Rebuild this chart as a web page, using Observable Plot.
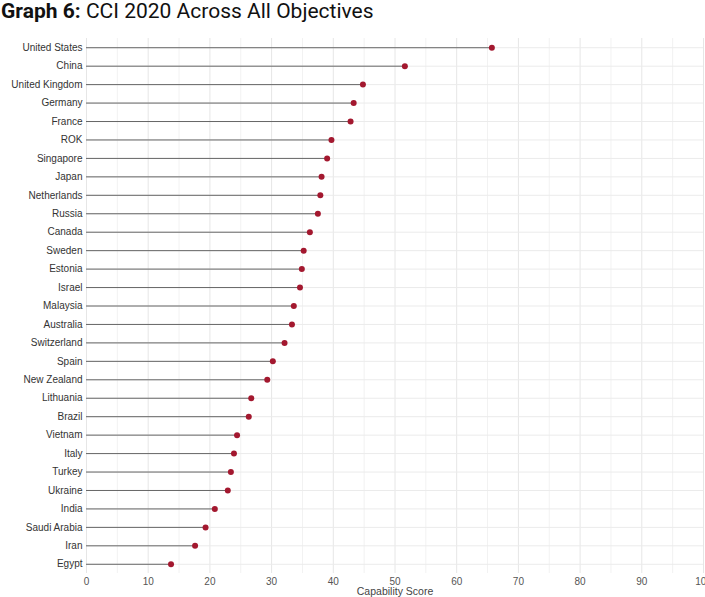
<!DOCTYPE html>
<html><head><meta charset="utf-8">
<script src="https://cdn.jsdelivr.net/npm/d3@7"></script>
<script src="https://cdn.jsdelivr.net/npm/@observablehq/plot@0.6"></script>
<style>
body{margin:0;background:#fff;}
#title{font-family:Roboto,sans-serif;font-size:21px;color:#111;height:30px;line-height:23px;padding-left:1px;white-space:nowrap;}
#title b{font-weight:700;}
#chart svg{display:block;}
</style></head><body>
<div id="title"><b>Graph 6:</b> CCI 2020 Across All Objectives</div>
<div id="chart"></div>
<script>
const countries = ["United States","China","United Kingdom","Germany","France","ROK","Singapore","Japan","Netherlands","Russia","Canada","Sweden","Estonia","Israel","Malaysia","Australia","Switzerland","Spain","New Zealand","Lithuania","Brazil","Vietnam","Italy","Turkey","Ukraine","India","Saudi Arabia","Iran","Egypt"];
const scores = [65.7,51.6,44.8,43.3,42.8,39.7,39.0,38.1,37.9,37.5,36.2,35.2,34.9,34.6,33.6,33.3,32.1,30.2,29.3,26.7,26.3,24.4,23.9,23.4,22.9,20.8,19.3,17.6,13.7];
const majorTicks = [0,10,20,30,40,50,60,70,80,90,100];
const minorTicks = [5,15,25,35,45,55,65,75,85,95];
const xTitle = ["Capability Score"];
const data = countries.map((c,i)=>({country:c, score:scores[i]}));

const chart = Plot.plot({
  width: 705,
  height: 567,
  marginLeft: 86,
  marginRight: 2,
  marginTop: 8,
  marginBottom: 24,
  style: {fontFamily: "'Liberation Sans', Arial, sans-serif", fontSize: "10px", color: "#444"},
  x: {domain: [0,100]},
  y: {type: "point", domain: countries, padding: 0.5, round: false},
  marks: [
    Plot.ruleX(minorTicks, {stroke: "#f2f2f2", strokeWidth: 1}),
    Plot.ruleX(majorTicks, {stroke: "#e6e6e6", strokeWidth: 1}),
    Plot.ruleY(countries, {stroke: "#ebebeb", strokeWidth: 1}),
    Plot.ruleY(data, {y: "country", x1: 0, x2: "score", stroke: "#666", strokeWidth: 1}),
    Plot.dot(data, {y: "country", x: "score", r: 3, fill: "#a3182f", stroke: "none"}),
    Plot.axisX({ticks: majorTicks, tickSize: 0, tickPadding: 4, fill: "#555", label: null, fontSize: 10}),
    Plot.text(xTitle, {text: d => d, frameAnchor: "bottom", dy: 21, fill: "#444", fontSize: 10.5}),
    Plot.axisY({tickSize: 0, tickPadding: 4, fill: "#333", label: null})
  ]
});
document.getElementById("chart").appendChild(chart);
</script>
</body></html>
